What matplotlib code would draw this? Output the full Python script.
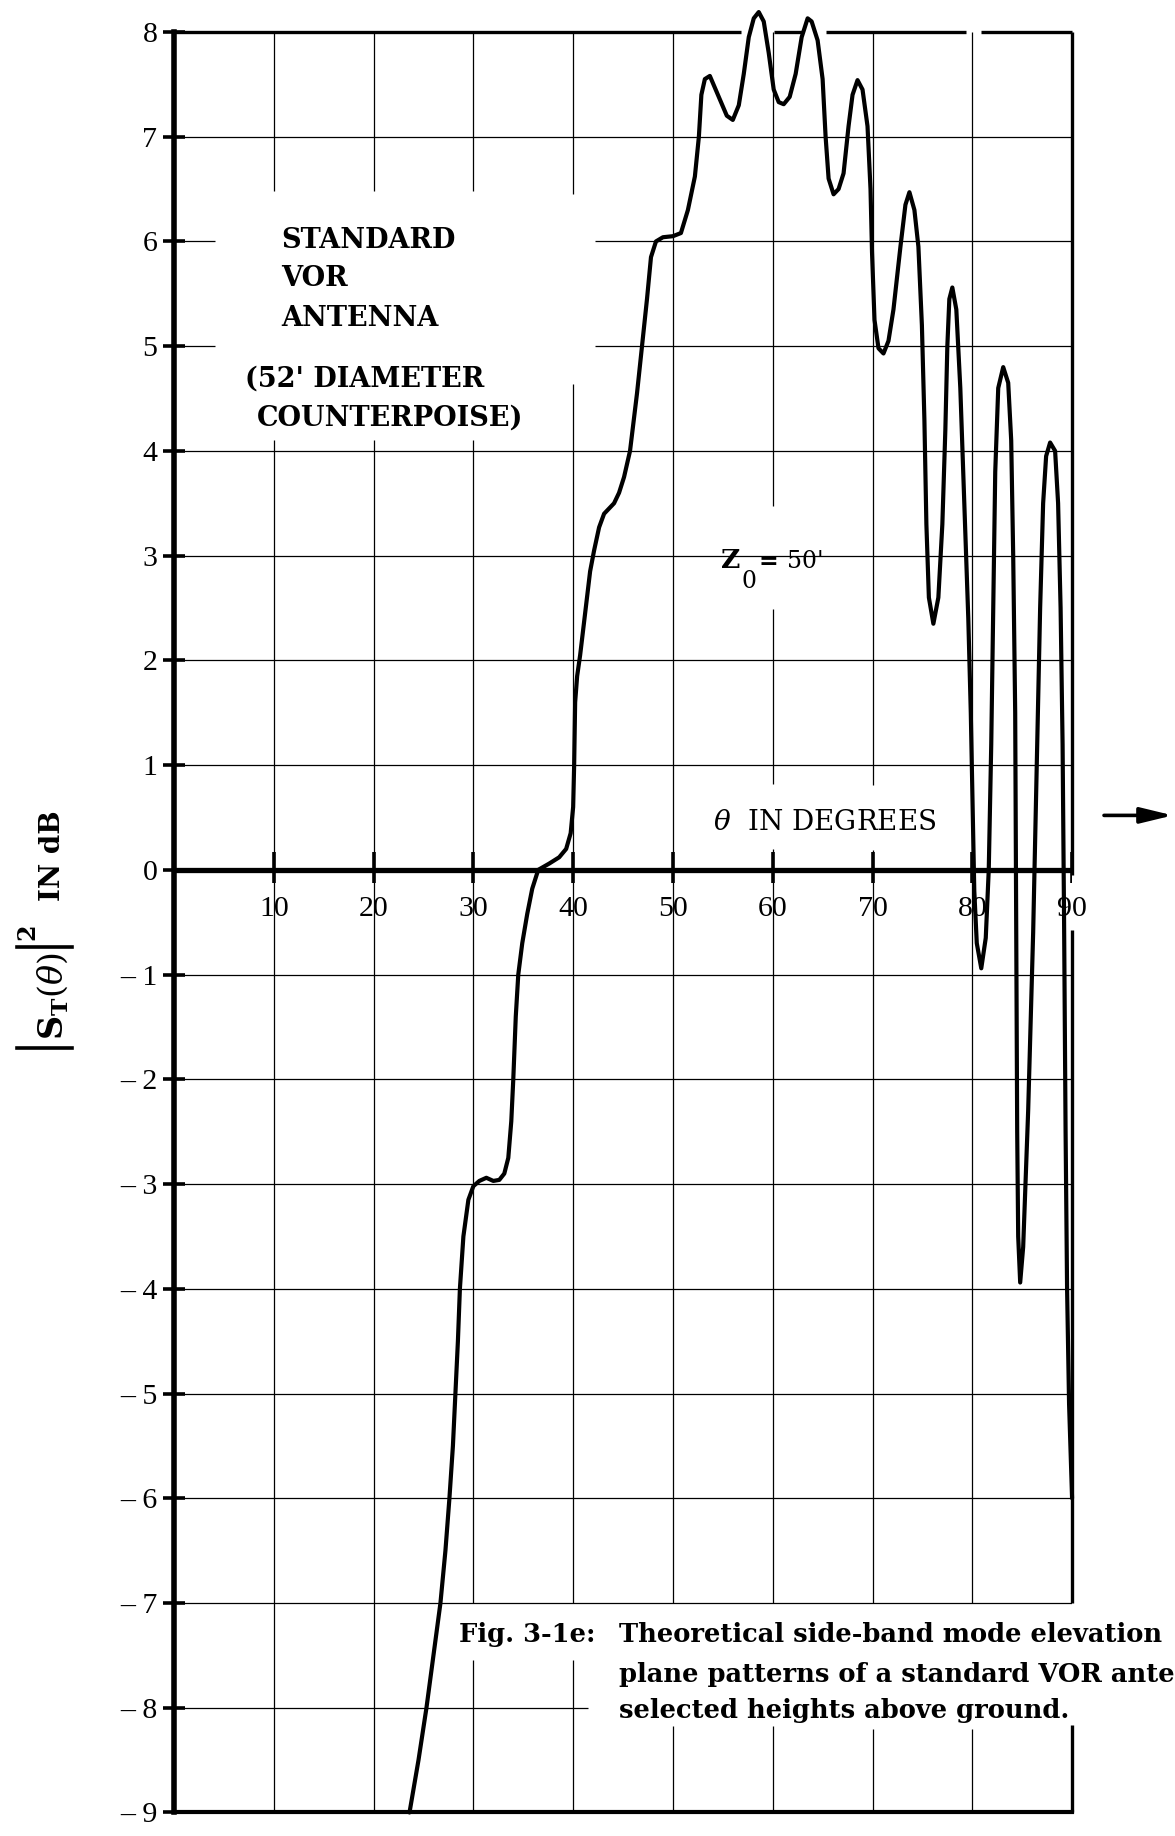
import matplotlib
matplotlib.use("Agg")
import matplotlib.pyplot as plt
from matplotlib.lines import Line2D

plt.rcParams["font.family"] = "DejaVu Serif"
plt.rcParams["mathtext.fontset"] = "dejavuserif"

# side-band elevation pattern, Z0 = 50 ft: theta (deg) vs |S_T(theta)|^2 (dB)
theta_deg = [
    23.6, 24.5, 25.3, 26.0, 26.7, 27.2, 27.6, 27.95, 28.2, 28.45, 28.65, 29.0,
    29.5, 30.0, 30.6, 31.3, 32.0, 32.6, 33.1, 33.5, 33.8, 34.0, 34.25, 34.5,
    34.9, 35.4, 35.9, 36.5, 37.6, 38.6, 39.3, 39.75, 40.0, 40.1, 40.2, 40.4,
    40.7, 41.2, 41.7, 42.1, 42.6, 43.1, 43.6, 44.1, 44.6, 45.1, 45.7, 46.4,
    46.9, 47.4, 47.8, 48.3, 49.0, 50.0, 50.8, 51.5, 52.2, 52.6, 52.85, 53.2,
    53.7, 54.6, 55.4, 56.0, 56.6, 57.1, 57.6, 58.1, 58.6, 59.1, 59.6, 60.1,
    60.6, 61.1, 61.7, 62.3, 62.9, 63.5, 63.9, 64.5, 65.0, 65.3, 65.6, 66.1,
    66.6, 67.1, 67.6, 68.0, 68.5, 69.0, 69.5, 69.8, 69.95, 70.2, 70.6, 71.1,
    71.6, 72.1, 72.8, 73.3, 73.7, 74.2, 74.6, 74.95, 75.2, 75.4, 75.65, 76.1,
    76.6, 77.0, 77.3, 77.5, 77.7, 78.0, 78.4, 78.8, 79.2, 79.6, 79.85, 80.05,
    80.2, 80.45, 80.9, 81.35, 81.65, 81.9, 82.1, 82.3, 82.6, 83.1, 83.6, 83.9,
    84.1, 84.3, 84.4, 84.5, 84.6, 84.8, 85.1, 85.6, 86.1, 86.5, 86.8, 87.1,
    87.4, 87.8, 88.3, 88.6, 88.85, 89.05, 89.2, 89.35, 89.5, 89.7, 90.0,
]
gain_db = [
    -9.0, -8.5, -8.0, -7.5, -7.0, -6.5, -6.0, -5.5, -5.0, -4.5, -4.0, -3.5,
    -3.15, -3.02, -2.97, -2.94, -2.97, -2.96, -2.9, -2.75, -2.4, -2.0, -1.4, -1.0,
    -0.7, -0.42, -0.18, 0.0, 0.06, 0.12, 0.2, 0.35, 0.6, 1.0, 1.6, 1.85,
    2.05, 2.45, 2.85, 3.05, 3.27, 3.4, 3.45, 3.5, 3.6, 3.75, 4.0, 4.55,
    5.0, 5.45, 5.85, 6.0, 6.04, 6.05, 6.08, 6.3, 6.62, 7.0, 7.4, 7.55,
    7.58, 7.38, 7.2, 7.16, 7.3, 7.6, 7.95, 8.13, 8.19, 8.1, 7.8, 7.45,
    7.33, 7.31, 7.38, 7.6, 7.95, 8.13, 8.1, 7.92, 7.55, 7.0, 6.6, 6.45,
    6.5, 6.65, 7.1, 7.4, 7.54, 7.45, 7.1, 6.5, 5.9, 5.25, 4.98, 4.93,
    5.05, 5.35, 5.95, 6.35, 6.47, 6.3, 5.95, 5.2, 4.3, 3.3, 2.6, 2.35,
    2.6, 3.3, 4.2, 5.0, 5.45, 5.56, 5.35, 4.6, 3.5, 2.4, 1.5, 0.5,
    -0.2, -0.7, -0.94, -0.65, 0.0, 1.2, 2.5, 3.8, 4.6, 4.8, 4.65, 4.1,
    3.0, 1.5, -0.5, -2.5, -3.5, -3.94, -3.6, -2.3, -0.6, 1.2, 2.5, 3.5,
    3.95, 4.08, 4.0, 3.5, 2.5, 1.2, -0.5, -2.5, -4.0, -5.1, -6.0,
]

x_ticks = [10, 20, 30, 40, 50, 60, 70, 80, 90]
y_ticks = list(range(-9, 9))
y_tick_labels = [str(v) if v >= 0 else "\u2013 " + str(-v) for v in y_ticks]

# breaks in the ruling where the lettering sits
v_gaps = {
    10: [(4.1, 6.48)],
    20: [(4.1, 6.48)],
    30: [(4.1, 6.48), (-7.54, -7.0)],
    40: [(4.64, 6.45), (-7.54, -7.0)],
    50: [(-8.17, -7.0)],
    60: [(2.49, 3.47), (0.2, 0.82), (-8.17, -7.0)],
    70: [(0.19, 0.81), (-8.2, -7.0)],
    80: [(-8.2, -7.0)],
}
h_gaps = {6: [(4.1, 42.2)], 5: [(4.1, 42.2)], -8: [(41.5, 90.0)]}
right_gaps = [(-0.57, -0.05), (-8.16, -7.0)]
top_gaps = [(56.8, 60.1), (62.9, 65.3), (79.4, 80.9)]


def segments(lo, hi, gaps):
    pts = [lo]
    for a, b in sorted(gaps):
        pts += [a, b]
    pts.append(hi)
    return list(zip(pts[0::2], pts[1::2]))


fig = plt.figure(figsize=(11.75, 18.36), dpi=100)
ax = fig.add_axes([0.1481, 0.0128, 0.7643, 0.9698])
ax.set_xlim(0, 90)
ax.set_ylim(-9, 8)

# thin ruling
for x in x_ticks[:-1]:
    for a, b in segments(-9, 8, v_gaps.get(x, [])):
        ax.vlines(x, a, b, color="black", lw=0.9, zorder=1)
for y in y_ticks[1:-1]:
    if y == 0:
        continue
    for a, b in segments(0, 90, h_gaps.get(y, [])):
        ax.hlines(y, a, b, color="black", lw=0.9, zorder=1)

# frame
for a, b in segments(-9, 8, right_gaps):
    ax.vlines(90, a, b, color="black", lw=2.4, zorder=2, clip_on=False)
for a, b in segments(0, 90, top_gaps):
    ax.hlines(8, a, b, color="black", lw=2.4, zorder=2, clip_on=False)
ax.spines["top"].set_visible(False)
ax.spines["right"].set_visible(False)
ax.spines["left"].set_linewidth(4)
ax.spines["bottom"].set_linewidth(3)

# theta axis along 0 dB
tick_font = dict(family="Liberation Serif", size=21.5)
ax.hlines(0, 0, 90, color="black", lw=3.8, zorder=2)
ax.vlines(x_ticks, -0.13, 0.17, color="black", lw=2.6, zorder=2)
for x in x_ticks:
    ax.text(x, -0.37, str(x), fontdict=tick_font, ha="center", va="center",
            zorder=4)

ax.set_xticks([])
ax.set_yticks(y_ticks)
ax.set_yticklabels(y_tick_labels, fontdict=tick_font)
ax.tick_params(axis="y", direction="inout", length=16, width=2.6, pad=4)

ax.plot(theta_deg, gain_db, color="black", lw=3, solid_joinstyle="round",
        solid_capstyle="round", clip_on=False, zorder=3)

# annotations
bold = dict(fontsize=19.5, fontweight="bold", va="baseline", zorder=4)
ax.text(10.75, 5.94, "STANDARD", **bold)
ax.text(10.75, 5.57, "VOR", **bold)
ax.text(10.75, 5.19, "ANTENNA", **bold)
ax.text(7.1, 4.61, "(52' DIAMETER", **bold)
ax.text(8.26, 4.24, "COUNTERPOISE)", **bold)

ax.text(54.8, 2.88, "Z", fontsize=19, fontweight="bold", va="baseline", zorder=4)
ax.text(56.9, 2.69, "0", fontsize=17, va="baseline", zorder=4)
ax.text(58.6, 2.87, "=", fontsize=17, fontweight="bold", va="baseline", zorder=4)
ax.text(61.4, 2.88, "50'", fontsize=17, va="baseline", zorder=4)

ax.text(54.0, 0.38, r"$\theta$  IN DEGREES", fontsize=20, va="baseline", zorder=4)

ax.annotate("", xy=(100.1, 0.52), xytext=(93.2, 0.52),
            arrowprops=dict(arrowstyle="-|>,head_length=0.7,head_width=0.17",
                            color="black", lw=2.6, mutation_scale=28,
                            shrinkA=0, shrinkB=0),
            annotation_clip=False)

cap = dict(fontsize=18.5, fontweight="bold", va="baseline", zorder=4)
ax.text(28.6, -7.37, "Fig. 3-1e:", **cap)
ax.text(44.6, -7.37, "Theoretical side-band mode elevation", **cap)
ax.text(44.6, -7.75, "plane patterns of a standard VOR antenna at", **cap)
ax.text(44.6, -8.10, "selected heights above ground.", **cap)

# vertical axis title, set piecewise so the magnitude bars run full height
rot = dict(rotation=90, ha="center", va="center", fontweight="bold")
fig.text(0.0445, 0.4575, r"$\mathbf{S}_{\mathbf{T}}(\theta)$", fontsize=24, **rot)
fig.text(0.0235, 0.4924, "2", fontsize=17, **rot)
fig.text(0.0447, 0.5338, "IN dB", fontsize=20, **rot)
for yb in (0.4292, 0.4842):
    fig.add_artist(Line2D([0.0145, 0.0613], [yb, yb], color="black", lw=2.6,
                          transform=fig.transFigure))

fig.savefig("out.png", dpi=100, facecolor="white")
